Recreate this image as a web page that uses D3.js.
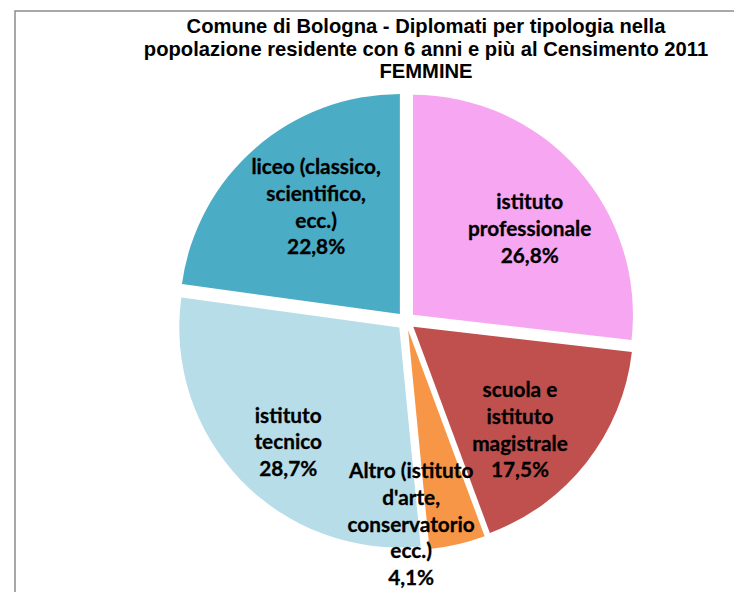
<!DOCTYPE html>
<html>
<head>
<meta charset="utf-8">
<script src="https://cdn.jsdelivr.net/npm/d3@7"></script>
<style>
  body { margin: 0; background: #fff; }
  svg { display: block; }
</style>
</head>
<body>
<div id="chart"></div>
<script>
// Pie chart of the female diplomas in Bologna (2011 census), slices pulled apart

// Data, clockwise from 12 o'clock
var categories = ["istituto professionale", "scuola e istituto magistrale",
  "Altro (istituto d'arte, conservatorio ecc.)", "istituto tecnico",
  "liceo (classico, scientifico, ecc.)"];
var values = [26.8, 17.5, 4.1, 28.7, 22.8];
var labelLines = [
  ["istituto", "professionale"],
  ["scuola e", "istituto", "magistrale"],
  ["Altro (istituto", "d'arte,", "conservatorio", "ecc.)"],
  ["istituto", "tecnico"],
  ["liceo (classico,", "scientifico,", "ecc.)"]
];
var titleLines = ["Comune di Bologna - Diplomati per tipologia nella",
  "popolazione residente con 6 anni e più al Censimento 2011",
  "FEMMINE"];

var colors = ["#F7A6F1", "#C0504D", "#F79646", "#B7DDE8", "#4BACC6"];

var svgWidth = 734;
var svgHeight = 592;
var cx = 406, cy = 321;     // pie centre
var radius = 220;
var explode = 9.3;          // how far every slice is pulled out

var svg = d3.select("#chart")
  .append("svg")
  .attr("width", svgWidth)
  .attr("height", svgHeight);

// chart area border (cut off at the right and bottom in the original)
svg.append("rect")
  .attr("x", 15)
  .attr("y", 11)
  .attr("width", 800)
  .attr("height", 700)
  .attr("fill", "none")
  .attr("stroke", "#8c8c8c")
  .attr("stroke-width", 1.5);

// title
svg.append("text")
  .attr("text-anchor", "middle")
  .attr("font-family", "Liberation Sans, Arial, sans-serif")
  .attr("font-weight", "bold")
  .attr("font-size", "20.2px")
  .attr("fill", "#000")
  .selectAll("tspan")
  .data(titleLines)
  .enter()
  .append("tspan")
  .attr("x", 426)
  .attr("y", (d, i) => 33 + i * 22.5)
  .text(d => d);

var pie = d3.pie().sort(null).value(d => d);
var arcs = pie(values);

var arc = d3.arc().innerRadius(0).outerRadius(radius);

function dir(d) {
  var a = (d.startAngle + d.endAngle) / 2;
  return [Math.sin(a), -Math.cos(a)];
}

var pieGroup = svg.append("g")
  .attr("transform", `translate(${cx}, ${cy})`);

pieGroup.selectAll("path")
  .data(arcs)
  .enter()
  .append("path")
  .attr("d", arc)
  .attr("fill", (d, i) => colors[i])
  .attr("transform", function (d) {
    var v = dir(d);
    return `translate(${v[0] * explode}, ${v[1] * explode})`;
  });

// labels: placed along the bisector, then nudged like Excel's "best fit"
var labelRadius = 155;
var nudge = [[8, 11], [-8, 13.5], [-42, -1], [-6, 14], [12, 3]];
var lineGap = 26.8;

var labels = pieGroup.selectAll("text.lbl")
  .data(arcs)
  .enter()
  .append("text")
  .attr("class", "lbl")
  .attr("text-anchor", "middle")
  .attr("font-family", "Lato, sans-serif")
  .attr("font-weight", "bold")
  .attr("font-size", "20.8px")
  .attr("fill", "#000")
  .attr("stroke", "#000")
  .attr("stroke-width", 0.3);

labels.each(function (d, i) {
  var v = dir(d);
  var r = i === 2 ? 210 : labelRadius;
  var x = v[0] * r + nudge[i][0];
  var y = v[1] * r + nudge[i][1];
  var lines = labelLines[i].concat([d3.format(".1f")(values[i]).replace(".", ",") + "%"]);
  var n = lines.length;
  d3.select(this).selectAll("tspan")
    .data(lines)
    .enter()
    .append("tspan")
    .attr("x", x)
    .attr("y", (t, k) => y + 7 + (k - (n - 1) / 2) * lineGap)
    .text(t => t);
});
</script>
</body>
</html>
